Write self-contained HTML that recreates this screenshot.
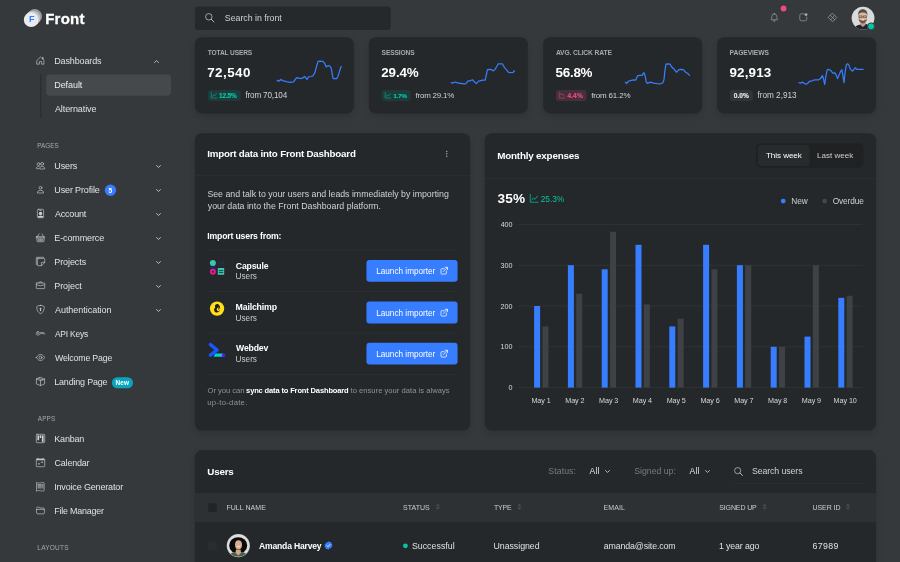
<!DOCTYPE html>
<html lang="en">
<head>
<meta charset="utf-8">
<title>Front Dashboard</title>
<style>
*{box-sizing:border-box;margin:0;padding:0}
html,body{width:900px;height:562px;overflow:hidden;background:#36393c}
body{font-family:"Liberation Sans",sans-serif;color:#c5c8cc;position:relative;font-size:8.75px;line-height:1}
.a{position:absolute;white-space:nowrap}
.t{position:absolute;white-space:nowrap;height:14px;line-height:14px}
svg{display:block;overflow:visible}
.ni svg,.ic svg{width:100%;height:100%}
.ic{position:absolute}
</style>
</head>
<body>
<svg class="a" style="left:0;top:0;width:900px;height:562px" viewBox="0 0 900 562">
<defs><filter id="sh" x="-10%" y="-20%" width="120%" height="140%"><feGaussianBlur stdDeviation="3"/></filter></defs>
<circle cx="34.7" cy="16.4" r="7.3" fill="#b0b3b7" opacity=".8"/>
<circle cx="33.0" cy="18.0" r="7.3" fill="#c3c5c9" opacity=".9"/>
<circle cx="31.2" cy="19.7" r="7.35" fill="#e9ebef"/>
<rect x="40.10" y="74.50" width="1.20" height="43.40" fill="#2b2e30"/>
<rect x="46.20" y="74.50" width="124.80" height="21.20" rx="3.80" fill="#46494c"/>
<circle cx="110.45" cy="190.25" r="5.65" fill="#377dff"/>
<rect x="111.90" y="377.20" width="21.10" height="11.10" rx="5.55" fill="#09a5be"/>
<rect x="194.90" y="6.60" width="195.80" height="23.40" rx="3.00" fill="#26292b"/>
<circle cx="783.55" cy="8.50" r="2.90" fill="#ed4c78"/>
<rect x="194.90" y="39.80" width="158.90" height="76.20" rx="7" fill="#000" opacity=".14" filter="url(#sh)"/>
<rect x="194.90" y="37.20" width="158.90" height="76.20" rx="7" fill="#25282a"/>
<rect x="207.70" y="89.90" width="32.90" height="11.00" rx="2.60" fill="#203a3a"/>
<path d="M277.29 80.40 L278.44 81.11 L281.11 79.60 L283.33 80.93 L286.44 81.73 L290.00 82.44 L293.56 81.82 L295.33 79.33 L296.67 77.73 L299.33 78.27 L302.00 78.44 L304.67 76.49 L306.89 79.33 L308.67 76.93 L310.89 76.49 L313.11 75.78 L314.89 72.67 L316.67 66.00 L318.00 61.38 L319.78 61.11 L322.89 61.29 L324.67 63.33 L326.18 66.89 L328.22 65.56 L330.00 66.00 L331.33 68.67 L332.67 76.67 L333.29 78.62 L336.67 78.62 L338.00 76.22 L339.78 70.44 L341.11 66.44" fill="none" stroke="#377dff" stroke-width="1.250" stroke-linejoin="round" stroke-linecap="round"/>
<rect x="368.90" y="39.80" width="158.90" height="76.20" rx="7" fill="#000" opacity=".14" filter="url(#sh)"/>
<rect x="368.90" y="37.20" width="158.90" height="76.20" rx="7" fill="#25282a"/>
<rect x="381.70" y="89.90" width="28.90" height="11.00" rx="2.60" fill="#203a3a"/>
<path d="M451.22 82.71 L452.56 83.07 L455.22 82.00 L457.44 82.89 L460.56 83.42 L464.11 83.96 L465.89 83.60 L468.11 80.93 L470.33 80.76 L472.38 79.78 L474.33 81.82 L476.29 83.60 L478.60 81.11 L480.56 80.58 L482.78 80.22 L485.18 80.22 L486.33 74.89 L487.49 69.73 L489.00 69.38 L491.22 69.56 L493.44 70.89 L495.22 69.11 L497.00 66.00 L498.33 63.78 L500.56 63.96 L502.33 63.78 L504.38 67.33 L506.33 69.56 L508.56 72.40 L510.78 72.67 L513.00 72.49 L514.51 70.62" fill="none" stroke="#377dff" stroke-width="1.250" stroke-linejoin="round" stroke-linecap="round"/>
<rect x="543.20" y="39.80" width="158.90" height="76.20" rx="7" fill="#000" opacity=".14" filter="url(#sh)"/>
<rect x="543.20" y="37.20" width="158.90" height="76.20" rx="7" fill="#25282a"/>
<rect x="556.00" y="89.90" width="30.50" height="11.00" rx="2.60" fill="#43303a"/>
<path d="M625.29 82.18 L626.62 83.51 L628.67 81.11 L631.33 80.40 L634.00 79.87 L635.78 80.04 L637.56 75.78 L639.78 75.33 L642.00 75.42 L643.96 72.67 L645.11 75.78 L646.27 82.00 L647.33 83.33 L650.44 82.18 L653.56 83.07 L657.11 83.60 L660.67 83.78 L662.89 82.71 L664.04 79.33 L664.93 70.44 L666.00 64.22 L667.78 63.78 L670.00 64.04 L671.78 67.07 L674.44 69.56 L676.49 72.22 L678.89 69.56 L681.11 69.38 L683.33 69.56 L685.56 72.22 L687.78 73.56 L689.56 75.33" fill="none" stroke="#377dff" stroke-width="1.250" stroke-linejoin="round" stroke-linecap="round"/>
<rect x="717.10" y="39.80" width="158.90" height="76.20" rx="7" fill="#000" opacity=".14" filter="url(#sh)"/>
<rect x="717.10" y="37.20" width="158.90" height="76.20" rx="7" fill="#25282a"/>
<rect x="729.90" y="89.90" width="22.90" height="11.00" rx="2.60" fill="#323538"/>
<path d="M799.11 82.71 L800.44 83.07 L802.67 82.18 L804.44 83.60 L806.22 84.22 L808.00 83.07 L809.60 81.11 L811.11 81.29 L813.33 80.22 L816.00 79.78 L818.67 79.78 L820.62 78.44 L822.40 75.60 L823.56 79.33 L824.71 84.49 L825.78 76.67 L827.11 70.00 L828.44 69.38 L830.67 70.27 L832.89 73.11 L835.11 72.93 L836.44 75.78 L837.60 78.62 L839.11 74.89 L840.71 71.33 L841.96 69.73 L842.93 75.78 L844.00 82.71 L845.07 72.22 L846.40 64.67 L847.56 63.60 L848.89 65.11 L850.22 68.84 L852.27 71.16 L853.78 69.73 L855.11 67.78 L856.71 69.29 L859.56 69.38 L863.11 69.38" fill="none" stroke="#377dff" stroke-width="1.250" stroke-linejoin="round" stroke-linecap="round"/>
<rect x="194.90" y="135.90" width="275.20" height="297.30" rx="7" fill="#000" opacity=".14" filter="url(#sh)"/>
<rect x="194.90" y="133.30" width="275.20" height="297.30" rx="7" fill="#25282a"/>
<rect x="194.90" y="175.10" width="275.30" height="0.80" fill="#2d3032"/>
<rect x="207.80" y="249.80" width="249.70" height="0.80" fill="#2d3032"/>
<rect x="366.45" y="260.00" width="91.10" height="21.80" rx="3.00" fill="#377dff"/>
<rect x="207.80" y="291.20" width="249.70" height="0.80" fill="#2d3032"/>
<rect x="366.45" y="301.60" width="91.10" height="21.80" rx="3.00" fill="#377dff"/>
<rect x="207.80" y="332.60" width="249.70" height="0.80" fill="#2d3032"/>
<rect x="366.45" y="342.80" width="91.10" height="21.80" rx="3.00" fill="#377dff"/>
<rect x="207.80" y="374.10" width="249.70" height="0.80" fill="#2d3032"/>
<rect x="209.900" y="260" width="6" height="14.800" rx="3" fill="#1e2a5a"/>
<circle cx="212.850" cy="262.950" r="3" fill="#3ec5a5"/>
<circle cx="212.850" cy="271.750" r="2" fill="none" stroke="#e8198b" stroke-width="2"/>
<circle cx="218.70" cy="261.30" r=".62" fill="#24326a"/>
<circle cx="218.70" cy="263.45" r=".62" fill="#24326a"/>
<circle cx="218.70" cy="265.60" r=".62" fill="#24326a"/>
<circle cx="221.10" cy="261.30" r=".62" fill="#24326a"/>
<circle cx="221.10" cy="263.45" r=".62" fill="#24326a"/>
<circle cx="221.10" cy="265.60" r=".62" fill="#24326a"/>
<circle cx="223.40" cy="261.30" r=".62" fill="#24326a"/>
<circle cx="223.40" cy="263.45" r=".62" fill="#24326a"/>
<circle cx="223.40" cy="265.60" r=".62" fill="#24326a"/>
<rect x="217.800" y="267.900" width="6.400" height="6.900" rx=".4" fill="#3cc8a5"/>
<path d="M218.900 270.600h4.300M218.900 272.500h4.300" stroke="#1e2a5a" stroke-width=".9"/>
<circle cx="217.050" cy="308.600" r="7.150" fill="#ffe01b"/>
<path d="M215.100 305.300c1.300-1.800 3.700-1.600 4.300.5.700 1 1 2.600.5 4.300-.4 1.700-1.800 2.600-3.400 2.400-1.600-.2-2.600-1.600-2.400-3.100.1-.9.600-1.500 1.200-1.800-.4-.8-.5-1.600-.2-2.300z" fill="#241c15"/>
<ellipse cx="218.300" cy="309.300" rx="1.500" ry="1.900" fill="#ffe01b"/><circle cx="218.400" cy="308.900" r=".55" fill="#241c15"/>
<path d="M215.300 353.500h7.500v3.300h-9.200z" fill="#00d2d6"/>
<circle cx="223.600" cy="355.150" r="1.750" fill="#6a10ff"/>
<path d="M210.500 344.700 217.100 350 210.500 355.200" fill="none" stroke="#1a56ff" stroke-width="3.500" stroke-linecap="round" stroke-linejoin="round"/>
<rect x="484.90" y="135.90" width="391.10" height="297.30" rx="7" fill="#000" opacity=".14" filter="url(#sh)"/>
<rect x="484.90" y="133.30" width="391.10" height="297.30" rx="7" fill="#25282a"/>
<rect x="756.10" y="143.20" width="107.40" height="24.50" rx="5.00" fill="#1f2123"/>
<rect x="757.80" y="145.00" width="51.70" height="20.90" rx="3.80" fill="#282b2d"/>
<rect x="484.90" y="178.00" width="391.30" height="0.80" fill="#2d3032"/>
<circle cx="783.20" cy="201.10" r="2.40" fill="#377dff"/>
<circle cx="824.60" cy="201.10" r="2.40" fill="#44474b"/>
<rect x="518.30" y="223.95" width="344.20" height="0.90" fill="#303336"/>
<rect x="518.30" y="264.75" width="344.20" height="0.90" fill="#303336"/>
<rect x="518.30" y="305.55" width="344.20" height="0.90" fill="#303336"/>
<rect x="518.30" y="346.35" width="344.20" height="0.90" fill="#303336"/>
<rect x="518.30" y="387.15" width="344.20" height="0.90" fill="#303336"/>
<rect x="534.10" y="306.00" width="6.00" height="81.60" rx="0.00" fill="#377dff"/>
<rect x="542.45" y="326.40" width="6.00" height="61.20" rx="0.00" fill="#3e4145"/>
<rect x="567.90" y="265.20" width="6.00" height="122.40" rx="0.00" fill="#377dff"/>
<rect x="576.25" y="293.76" width="6.00" height="93.84" rx="0.00" fill="#3e4145"/>
<rect x="601.70" y="269.28" width="6.00" height="118.32" rx="0.00" fill="#377dff"/>
<rect x="610.05" y="231.74" width="6.00" height="155.86" rx="0.00" fill="#3e4145"/>
<rect x="635.50" y="244.80" width="6.00" height="142.80" rx="0.00" fill="#377dff"/>
<rect x="643.85" y="304.37" width="6.00" height="83.23" rx="0.00" fill="#3e4145"/>
<rect x="669.30" y="326.40" width="6.00" height="61.20" rx="0.00" fill="#377dff"/>
<rect x="677.65" y="318.65" width="6.00" height="68.95" rx="0.00" fill="#3e4145"/>
<rect x="703.10" y="244.80" width="6.00" height="142.80" rx="0.00" fill="#377dff"/>
<rect x="711.45" y="269.28" width="6.00" height="118.32" rx="0.00" fill="#3e4145"/>
<rect x="736.90" y="265.20" width="6.00" height="122.40" rx="0.00" fill="#377dff"/>
<rect x="745.25" y="265.20" width="6.00" height="122.40" rx="0.00" fill="#3e4145"/>
<rect x="770.70" y="346.80" width="6.00" height="40.80" rx="0.00" fill="#377dff"/>
<rect x="779.05" y="346.80" width="6.00" height="40.80" rx="0.00" fill="#3e4145"/>
<rect x="804.50" y="336.60" width="6.00" height="51.00" rx="0.00" fill="#377dff"/>
<rect x="812.85" y="265.20" width="6.00" height="122.40" rx="0.00" fill="#3e4145"/>
<rect x="838.30" y="297.84" width="6.00" height="89.76" rx="0.00" fill="#377dff"/>
<rect x="846.65" y="295.80" width="6.00" height="91.80" rx="0.00" fill="#3e4145"/>
<rect x="194.90" y="452.70" width="681.10" height="130.00" rx="7" fill="#000" opacity=".14" filter="url(#sh)"/>
<rect x="194.90" y="450.10" width="681.10" height="130.00" rx="7" fill="#25282a"/>
<rect x="733.40" y="482.90" width="130.80" height="0.80" fill="#2d3032"/>
<rect x="194.90" y="493.10" width="681.10" height="28.90" rx="0.00" fill="#2e3133"/>
<rect x="208.20" y="503.30" width="8.60" height="8.70" rx="1.50" fill="#222527"/>
<path d="M437.85 503.500l2.100 2.700h-4.200zM437.85 509.900l2.100-2.700h-4.200z" fill="#474b4f"/>
<path d="M519.45 503.500l2.100 2.700h-4.200zM519.45 509.900l2.100-2.700h-4.200z" fill="#474b4f"/>
<path d="M764.65 503.500l2.100 2.700h-4.200zM764.65 509.900l2.100-2.700h-4.200z" fill="#474b4f"/>
<path d="M847.95 503.500l2.100 2.700h-4.200zM847.95 509.900l2.100-2.700h-4.200z" fill="#474b4f"/>
<rect x="208.20" y="541.60" width="8.60" height="8.60" rx="1.50" fill="#2a2d2f"/>
<circle cx="405.40" cy="545.80" r="2.40" fill="#00c9a7"/>
</svg>
<aside>
<div class="t" style="left:29.00px;top:12.00px;font-size:9px;color:#377dff;font-weight:bold;">F</div>
<div class="t" style="left:45.20px;top:12.00px;font-size:15px;color:#fff;font-weight:bold;letter-spacing:0.219px;-webkit-text-stroke:.3px #fff;">Front</div>
<div class="ic" style="left:36.15px;top:55.90px;width:9.00px;height:9.00px;color:#cfd2d5"><svg viewBox="0 0 16 16"><path d="M2 7.600 8 1.700l6 5.900v6.900h-4v-4.500H6v4.500H2z" fill="none" stroke="currentColor" stroke-width="1.1" stroke-linejoin="round" stroke-linecap="round"/><path d="M11.500 4.600V2.500h1.300v3.300" fill="none" stroke="currentColor" stroke-width="1.1" stroke-linejoin="round" stroke-linecap="round"/></svg></div>
<div class="t" style="left:54.25px;top:54.00px;font-size:9px;color:#dfe1e3;letter-spacing:-0.137px;">Dashboards</div>
<div class="ic" style="left:153.80px;top:58.70px;width:5.00px;height:5.00px;color:#d3d5d8"><svg viewBox="0 0 16 16"><path d="M1.700 11.300 8 5l6.300 6.300" fill="none" stroke="currentColor" stroke-width="2.600" stroke-linecap="round" stroke-linejoin="round"/></svg></div>
<div class="t" style="left:54.25px;top:78.00px;font-size:9px;color:#e6e8ea;letter-spacing:-0.069px;">Default</div>
<div class="t" style="left:54.95px;top:102.00px;font-size:9px;color:#dfe1e3;letter-spacing:-0.102px;">Alternative</div>
<div class="t" style="left:37.30px;top:139.00px;font-size:6.3px;color:#a6aaae;letter-spacing:0.040px;">PAGES</div>
<div class="ic" style="left:36.15px;top:160.90px;width:9.00px;height:9.00px;color:#cfd2d5"><svg viewBox="0 0 16 16"><circle cx="11" cy="5" r="2.500" fill="none" stroke="currentColor" stroke-width="1.1" stroke-linejoin="round" stroke-linecap="round"/><path d="M6.500 13.500c0-2.100 1.500-4 4.500-4s4.500 1.900 4.500 4z" fill="none" stroke="currentColor" stroke-width="1.1" stroke-linejoin="round" stroke-linecap="round"/><circle cx="4.500" cy="5.500" r="2.500" fill="none" stroke="currentColor" stroke-width="1.1" stroke-linejoin="round" stroke-linecap="round"/><path d="M5.600 9.550C5.400 9.500 5.200 9.500 5 9.500c-3.400 0-4.500 2.400-4.500 3.500 0 .3.200.5.500.5h3.500" fill="none" stroke="currentColor" stroke-width="1.1" stroke-linejoin="round" stroke-linecap="round"/></svg></div>
<div class="t" style="left:54.35px;top:159.00px;font-size:9px;color:#dfe1e3;letter-spacing:-0.150px;">Users</div>
<div class="ic" style="left:155.90px;top:163.70px;width:5.00px;height:5.00px;color:#d3d5d8"><svg viewBox="0 0 16 16"><path d="M1.700 4.700 8 11l6.300-6.300" fill="none" stroke="currentColor" stroke-width="2.600" stroke-linecap="round" stroke-linejoin="round"/></svg></div>
<div class="ic" style="left:36.15px;top:184.90px;width:9.00px;height:9.00px;color:#cfd2d5"><svg viewBox="0 0 16 16"><circle cx="8" cy="5" r="2.500" fill="none" stroke="currentColor" stroke-width="1.1" stroke-linejoin="round" stroke-linecap="round"/><path d="M2.500 13.500c0-2 1.500-4 5.500-4s5.500 2 5.500 4z" fill="none" stroke="currentColor" stroke-width="1.1" stroke-linejoin="round" stroke-linecap="round"/></svg></div>
<div class="t" style="left:54.35px;top:183.00px;font-size:9px;color:#dfe1e3;letter-spacing:-0.146px;">User Profile</div>
<div class="ic" style="left:155.90px;top:187.70px;width:5.00px;height:5.00px;color:#d3d5d8"><svg viewBox="0 0 16 16"><path d="M1.700 4.700 8 11l6.300-6.300" fill="none" stroke="currentColor" stroke-width="2.600" stroke-linecap="round" stroke-linejoin="round"/></svg></div>
<div class="ic" style="left:36.15px;top:208.90px;width:9.00px;height:9.00px;color:#cfd2d5"><svg viewBox="0 0 16 16"><rect x="2.500" y=".5" width="11" height="15" rx="2" fill="none" stroke="currentColor" stroke-width="1.1" stroke-linejoin="round" stroke-linecap="round"/><path d="M6.500 2.500h3" fill="none" stroke="currentColor" stroke-width="1.1" stroke-linejoin="round" stroke-linecap="round"/><circle cx="8" cy="8" r="3" fill="currentColor"/><path d="M3 13.400c1-.9 2.800-1.400 5-1.400s4 .5 5 1.400V15H3z" fill="currentColor"/></svg></div>
<div class="t" style="left:54.95px;top:207.00px;font-size:8.99px;color:#dfe1e3;letter-spacing:-0.180px;">Account</div>
<div class="ic" style="left:155.90px;top:211.70px;width:5.00px;height:5.00px;color:#d3d5d8"><svg viewBox="0 0 16 16"><path d="M1.700 4.700 8 11l6.300-6.300" fill="none" stroke="currentColor" stroke-width="2.600" stroke-linecap="round" stroke-linejoin="round"/></svg></div>
<div class="ic" style="left:36.15px;top:232.90px;width:9.00px;height:9.00px;color:#cfd2d5"><svg viewBox="0 0 16 16"><path d="M5.500 1.500 2.800 6M10.500 1.500l2.700 4.500" fill="none" stroke="currentColor" stroke-width="1.1" stroke-linejoin="round" stroke-linecap="round"/><rect x=".5" y="6.500" width="15" height="2" rx=".5" fill="none" stroke="currentColor" stroke-width="1.1" stroke-linejoin="round" stroke-linecap="round"/><path d="M1.500 8.500v5a2 2 0 0 0 2 2h9a2 2 0 0 0 2-2v-5" fill="none" stroke="currentColor" stroke-width="1.1" stroke-linejoin="round" stroke-linecap="round"/><path d="M4 10.500v3M6 10.500v3M8 10.500v3M10 10.500v3M12 10.500v3" fill="none" stroke="currentColor" stroke-width="1.1" stroke-linejoin="round" stroke-linecap="round"/></svg></div>
<div class="t" style="left:54.25px;top:231.00px;font-size:9px;color:#dfe1e3;letter-spacing:-0.122px;">E-commerce</div>
<div class="ic" style="left:155.90px;top:235.70px;width:5.00px;height:5.00px;color:#d3d5d8"><svg viewBox="0 0 16 16"><path d="M1.700 4.700 8 11l6.300-6.300" fill="none" stroke="currentColor" stroke-width="2.600" stroke-linecap="round" stroke-linejoin="round"/></svg></div>
<div class="ic" style="left:36.15px;top:256.90px;width:9.00px;height:9.00px;color:#cfd2d5"><svg viewBox="0 0 16 16"><path d="M.5 13.500V1.500a1 1 0 0 1 1-1h12" fill="none" stroke="currentColor" stroke-width="1.1" stroke-linejoin="round" stroke-linecap="round"/><path d="M3.500 2.500h11a1 1 0 0 1 1 1v6.100l-5.400 5.900H3.500a1 1 0 0 1-1-1v-11a1 1 0 0 1 1-1z" fill="none" stroke="currentColor" stroke-width="1.1" stroke-linejoin="round" stroke-linecap="round"/><path d="M9.500 15.200v-4.700a1 1 0 0 1 1-1h4.700" fill="none" stroke="currentColor" stroke-width="1.1" stroke-linejoin="round" stroke-linecap="round"/></svg></div>
<div class="t" style="left:54.25px;top:255.00px;font-size:9px;color:#dfe1e3;letter-spacing:-0.087px;">Projects</div>
<div class="ic" style="left:155.90px;top:259.70px;width:5.00px;height:5.00px;color:#d3d5d8"><svg viewBox="0 0 16 16"><path d="M1.700 4.700 8 11l6.300-6.300" fill="none" stroke="currentColor" stroke-width="2.600" stroke-linecap="round" stroke-linejoin="round"/></svg></div>
<div class="ic" style="left:36.15px;top:280.90px;width:9.00px;height:9.00px;color:#cfd2d5"><svg viewBox="0 0 16 16"><rect x=".5" y="3.500" width="15" height="10" rx="1" fill="none" stroke="currentColor" stroke-width="1.1" stroke-linejoin="round" stroke-linecap="round"/><path d="M5.500 3.500v-1a1 1 0 0 1 1-1h3a1 1 0 0 1 1 1v1" fill="none" stroke="currentColor" stroke-width="1.1" stroke-linejoin="round" stroke-linecap="round"/><path d="M.6 6.600 8 8.500l7.400-1.900" fill="none" stroke="currentColor" stroke-width="1.1" stroke-linejoin="round" stroke-linecap="round"/></svg></div>
<div class="t" style="left:54.25px;top:279.00px;font-size:9px;color:#dfe1e3;letter-spacing:-0.068px;">Project</div>
<div class="ic" style="left:155.90px;top:283.70px;width:5.00px;height:5.00px;color:#d3d5d8"><svg viewBox="0 0 16 16"><path d="M1.700 4.700 8 11l6.300-6.300" fill="none" stroke="currentColor" stroke-width="2.600" stroke-linecap="round" stroke-linejoin="round"/></svg></div>
<div class="ic" style="left:36.15px;top:304.90px;width:9.00px;height:9.00px;color:#cfd2d5"><svg viewBox="0 0 16 16"><path d="M8 .6c-1.500 0-4.500 1-5.800 1.400-.3.100-.5.400-.6.700-.5 4.300.8 7.500 2.400 9.600 1.300 1.700 3 3 4 3.100 1-.1 2.700-1.400 4-3.100 1.600-2.100 2.900-5.300 2.400-9.600-.1-.3-.3-.6-.6-.7C12.500 1.600 9.500.6 8 .6z" fill="none" stroke="currentColor" stroke-width="1.1" stroke-linejoin="round" stroke-linecap="round"/><circle cx="8" cy="6.500" r="1.500" fill="currentColor"/><path d="M7.300 7.500h1.400l.5 3H6.800z" fill="currentColor"/></svg></div>
<div class="t" style="left:54.95px;top:303.00px;font-size:9px;color:#dfe1e3;letter-spacing:-0.034px;">Authentication</div>
<div class="ic" style="left:155.90px;top:307.70px;width:5.00px;height:5.00px;color:#d3d5d8"><svg viewBox="0 0 16 16"><path d="M1.700 4.700 8 11l6.300-6.300" fill="none" stroke="currentColor" stroke-width="2.600" stroke-linecap="round" stroke-linejoin="round"/></svg></div>
<div class="ic" style="left:36.15px;top:328.90px;width:9.00px;height:9.00px;color:#cfd2d5"><svg viewBox="0 0 16 16"><path d="M3.500 5a3 3 0 1 0 2.800 4h1.200l1-1 1 1 1-1 1 1 1-1 1 1h1.500L15.500 8 14 6.500H6.100A3 3 0 0 0 3.500 5z" fill="none" stroke="currentColor" stroke-width="1.1" stroke-linejoin="round" stroke-linecap="round"/><circle cx="3.500" cy="8" r=".9" fill="currentColor"/></svg></div>
<div class="t" style="left:54.95px;top:327.00px;font-size:8.42px;color:#dfe1e3;letter-spacing:-0.188px;">API Keys</div>
<div class="ic" style="left:36.15px;top:352.90px;width:9.00px;height:9.00px;color:#cfd2d5"><svg viewBox="0 0 16 16"><path d="M.6 8s3-5.500 7.400-5.500S15.400 8 15.400 8s-3 5.500-7.400 5.500S.6 8 .6 8z" fill="none" stroke="currentColor" stroke-width="1.1" stroke-linejoin="round" stroke-linecap="round"/><circle cx="8" cy="8" r="2.500" fill="none" stroke="currentColor" stroke-width="1.1" stroke-linejoin="round" stroke-linecap="round"/></svg></div>
<div class="t" style="left:54.95px;top:351.00px;font-size:8.77px;color:#dfe1e3;letter-spacing:-0.175px;">Welcome Page</div>
<div class="ic" style="left:36.15px;top:376.90px;width:9.00px;height:9.00px;color:#cfd2d5"><svg viewBox="0 0 16 16"><path d="M8 .8 15.300 3.700v8.600L8 15.200.7 12.300V3.700z" fill="none" stroke="currentColor" stroke-width="1.1" stroke-linejoin="round" stroke-linecap="round"/><path d="M.7 3.700 8 6.600l7.300-2.900M8 6.600v8.600M4.350 2.250l7.300 2.900" fill="none" stroke="currentColor" stroke-width="1.1" stroke-linejoin="round" stroke-linecap="round"/></svg></div>
<div class="t" style="left:54.25px;top:375.00px;font-size:8.96px;color:#dfe1e3;letter-spacing:-0.174px;">Landing Page</div>
<div class="t" style="left:108.50px;top:184.00px;font-size:6.6px;color:#fff;font-weight:bold;">5</div>
<div class="t" style="left:115.60px;top:376.00px;font-size:6.4px;color:#fff;font-weight:bold;letter-spacing:0.109px;">New</div>
<div class="t" style="left:37.80px;top:412.00px;font-size:6.3px;color:#a6aaae;letter-spacing:0.165px;">APPS</div>
<div class="ic" style="left:36.15px;top:433.90px;width:9.00px;height:9.00px;color:#cfd2d5"><svg viewBox="0 0 16 16"><rect x=".5" y=".5" width="15" height="15" rx="1.500" fill="none" stroke="currentColor" stroke-width="1.1" stroke-linejoin="round" stroke-linecap="round"/><rect x="2.500" y="2" width="3" height="9" rx="1" fill="currentColor"/><rect x="6.500" y="2" width="3" height="5" rx="1" fill="currentColor"/><rect x="10.500" y="2" width="3" height="12" rx="1" fill="currentColor"/></svg></div>
<div class="t" style="left:54.25px;top:432.00px;font-size:8.99px;color:#dfe1e3;letter-spacing:-0.179px;">Kanban</div>
<div class="ic" style="left:36.15px;top:457.90px;width:9.00px;height:9.00px;color:#cfd2d5"><svg viewBox="0 0 16 16"><rect x=".5" y="1.500" width="15" height="14" rx="1.500" fill="none" stroke="currentColor" stroke-width="1.1" stroke-linejoin="round" stroke-linecap="round"/><path d="M1 2h14v2H1z" fill="currentColor"/><path d="M3.500.5v1M12.500.5v1" fill="none" stroke="currentColor" stroke-width="1.1" stroke-linejoin="round" stroke-linecap="round"/><path d="M9 7.500h3.500M3.500 10.500H7" stroke="currentColor" stroke-width="1.600" fill="none"/></svg></div>
<div class="t" style="left:54.55px;top:456.00px;font-size:8.93px;color:#dfe1e3;letter-spacing:-0.181px;">Calendar</div>
<div class="ic" style="left:36.15px;top:481.90px;width:9.00px;height:9.00px;color:#cfd2d5"><svg viewBox="0 0 16 16"><path d="M1.500 1l1 .8 1-.8 1 .8 1-.8 1 .8 1-.8 1 .8 1-.8 1 .8 1-.8 1 .8 1-.8 1 .8v13.400l-1 .8-1-.8-1 .8-1-.8-1 .8-1-.8-1 .8-1-.8-1 .8-1-.8-1 .8-1-.8-1 .8z" fill="none" stroke="currentColor" stroke-width="1.1" stroke-linejoin="round" stroke-linecap="round"/><path d="M3.500 4.500h6M3.500 6.500h6M3.500 8.500h6M3.500 10.500h6M11.500 4.500h1M11.500 6.500h1M11.500 8.500h1M11.500 10.500h1" fill="none" stroke="currentColor" stroke-width="1.1" stroke-linejoin="round" stroke-linecap="round"/></svg></div>
<div class="t" style="left:54.15px;top:480.00px;font-size:9px;color:#dfe1e3;letter-spacing:-0.159px;">Invoice Generator</div>
<div class="ic" style="left:36.15px;top:505.90px;width:9.00px;height:9.00px;color:#cfd2d5"><svg viewBox="0 0 16 16"><path d="M1 3.500A1.500 1.500 0 0 1 2.500 2h2.800l1.700 1.500h6A1.500 1.500 0 0 1 14.500 5v1" fill="none" stroke="currentColor" stroke-width="1.1" stroke-linejoin="round" stroke-linecap="round"/><path d="M1.500 6h13a1 1 0 0 1 1 1.200l-.8 5.600a1.500 1.500 0 0 1-1.500 1.200H2.800a1.500 1.500 0 0 1-1.500-1.200L.5 7.200a1 1 0 0 1 1-1.200z" fill="none" stroke="currentColor" stroke-width="1.1" stroke-linejoin="round" stroke-linecap="round"/></svg></div>
<div class="t" style="left:54.25px;top:504.00px;font-size:8.9px;color:#dfe1e3;letter-spacing:-0.180px;">File Manager</div>
<div class="t" style="left:37.30px;top:541.00px;font-size:6.51px;color:#a6aaae;letter-spacing:0.223px;">LAYOUTS</div>
</aside>
<header>
<div class="ic" style="left:204.80px;top:13.30px;width:9.40px;height:9.40px;color:#c5c8cc"><svg viewBox="0 0 16 16"><circle cx="6.500" cy="6.500" r="5.500" fill="none" stroke="currentColor" stroke-width="1.250"/><path d="M10.600 10.600 15.200 15.200" stroke="currentColor" stroke-width="1.500" stroke-linecap="round"/></svg></div>
<div class="t" style="left:224.80px;top:11.00px;font-size:8.8px;color:#cfd1d4;letter-spacing:-0.020px;">Search in front</div>
<div class="ic" style="left:769.60px;top:13.20px;width:8.60px;height:8.60px;color:#a9afb5"><svg viewBox="0 0 16 16"><path d="M8 1.500A4.500 4.500 0 0 0 3.500 6c0 2.500-.5 5-1.700 6.500h12.400C13 11 12.500 8.500 12.500 6A4.500 4.500 0 0 0 8 1.500z" fill="none" stroke="currentColor" stroke-width="1.1" stroke-linejoin="round" stroke-linecap="round"/><path d="M6.300 14.200a1.700 1.700 0 0 0 3.400 0" fill="none" stroke="currentColor" stroke-width="1.1" stroke-linejoin="round" stroke-linecap="round"/><circle cx="8" cy="1" r=".9" fill="currentColor"/></svg></div>
<div class="ic" style="left:798.90px;top:13.40px;width:8.60px;height:8.60px;color:#a9afb5"><svg viewBox="0 0 16 16"><path d="M8.500 1.500H4.500a3 3 0 0 0-3 3v7a3 3 0 0 0 3 3h7a3 3 0 0 0 3-3V7.500" fill="none" stroke="currentColor" stroke-width="1.1" stroke-linejoin="round" stroke-linecap="round"/><circle cx="13" cy="3" r="2.700" fill="currentColor"/></svg></div>
<div class="ic" style="left:828.00px;top:13.10px;width:9.20px;height:9.20px;color:#a9afb5"><svg viewBox="0 0 16 16"><path d="M8 .7 15.300 8 8 15.300.7 8z" fill="none" stroke="currentColor" stroke-width="1.1" stroke-linejoin="round" stroke-linecap="round"/><path d="M4.350 4.350l7.300 7.300M11.650 4.350l-7.300 7.300" fill="none" stroke="currentColor" stroke-width="1.1" stroke-linejoin="round" stroke-linecap="round"/></svg></div>
<svg class="a" style="left:850px;top:5px;width:27px;height:27px" viewBox="850 5 27 27">
<defs><clipPath id="av"><circle cx="863.050" cy="18.100" r="11.400"/></clipPath></defs>
<g clip-path="url(#av)"><rect x="850" y="5" width="27" height="27" fill="#d9dadb"/>
<path d="M853 30.500c1-3.800 4-5.200 6.500-5.800l2.800-1.200h2.800l2.800 1.200c2.500.600 5.500 2 6.500 5.800z" fill="#1f2435"/>
<path d="M860.600 21.500h4.600l.4 3.200-2.700 2.300-2.700-2.300z" fill="#c69a7e"/>
<ellipse cx="862.600" cy="17.200" rx="4.400" ry="5.500" fill="#dcb6a0"/>
<path d="M858.200 16c-.5-4.200 1.500-6.700 4.600-6.700s5.100 2.500 4.600 6.700c-.4-2.200-1.300-3.400-4.600-3.400s-4.200 1.200-4.600 3.400z" fill="#55504c"/>
<path d="M858.500 18.600c.4 3.200 2 4.800 4.300 4.800s3.900-1.600 4.300-4.800c-1 1.400-2.500 1.900-4.300 1.900s-3.300-.5-4.300-1.900z" fill="#6a5447"/>
<path d="M859 15.900h3.200v1.700H859zM863.400 15.900h3.200v1.700h-3.200z" fill="none" stroke="#3a302b" stroke-width=".55"/>
<path d="M861.600 19.900h2.500" stroke="#f1e6e0" stroke-width=".8"/>
</g>
<circle cx="871.100" cy="26.400" r="3.500" fill="#00c9a7" stroke="#36393c" stroke-width="1"/>
</svg>
</header>
<main>
<section>
<div class="t" style="left:207.70px;top:46.00px;font-size:6.61px;color:#a6aaae;font-weight:bold;letter-spacing:-0.132px;">TOTAL USERS</div>
<div class="t" style="left:207.20px;top:66.00px;font-size:13.4px;color:#fff;font-weight:bold;letter-spacing:0.453px;">72,540</div>
<div class="ic" style="left:210.90px;top:92.40px;width:6.20px;height:6.20px;color:#00c9a7"><svg viewBox="0 0 16 16"><path d="M.5 0v15.500H16" fill="none" stroke="currentColor" stroke-width="1.300"/><path d="M3.500 11.500 6.500 7.300l3 2.700 4.500-6" fill="none" stroke="currentColor" stroke-width="1.300" stroke-linejoin="round" stroke-linecap="round"/></svg></div>
<div class="t" style="left:219.00px;top:89.00px;font-size:6.48px;color:#00c9a7;font-weight:bold;letter-spacing:-0.128px;-webkit-text-stroke:.15px #00c9a7;">12.5%</div>
<div class="t" style="left:245.40px;top:89.00px;font-size:8.15px;color:#cfd1d4;letter-spacing:-0.156px;">from 70,104</div>
<div class="t" style="left:381.60px;top:46.00px;font-size:6.63px;color:#a6aaae;font-weight:bold;letter-spacing:-0.125px;">SESSIONS</div>
<div class="t" style="left:381.30px;top:66.00px;font-size:13.4px;color:#fff;font-weight:bold;letter-spacing:-0.145px;">29.4%</div>
<div class="ic" style="left:384.90px;top:92.40px;width:6.20px;height:6.20px;color:#00c9a7"><svg viewBox="0 0 16 16"><path d="M.5 0v15.500H16" fill="none" stroke="currentColor" stroke-width="1.300"/><path d="M3.500 11.500 6.500 7.300l3 2.700 4.500-6" fill="none" stroke="currentColor" stroke-width="1.300" stroke-linejoin="round" stroke-linecap="round"/></svg></div>
<div class="t" style="left:393.50px;top:89.00px;font-size:6.07px;color:#00c9a7;font-weight:bold;letter-spacing:-0.179px;-webkit-text-stroke:.15px #00c9a7;">1.7%</div>
<div class="t" style="left:415.40px;top:89.00px;font-size:7.93px;color:#cfd1d4;letter-spacing:-0.166px;">from 29.1%</div>
<div class="t" style="left:555.90px;top:46.00px;font-size:6.7px;color:#a6aaae;font-weight:bold;letter-spacing:-0.125px;">AVG. CLICK RATE</div>
<div class="t" style="left:555.60px;top:66.00px;font-size:13.4px;color:#fff;font-weight:bold;letter-spacing:-0.270px;">56.8%</div>
<div class="ic" style="left:559.20px;top:92.40px;width:6.20px;height:6.20px;color:#ed4c78"><svg viewBox="0 0 16 16"><path d="M.5 0v15.500H16" fill="none" stroke="currentColor" stroke-width="1.300"/><path d="M3.500 3.500l3 4.200 3-2.700 4.500 6" fill="none" stroke="currentColor" stroke-width="1.300" stroke-linejoin="round" stroke-linecap="round"/></svg></div>
<div class="t" style="left:567.40px;top:89.00px;font-size:6.6px;color:#ed4c78;font-weight:bold;letter-spacing:0.108px;-webkit-text-stroke:.15px #ed4c78;">4.4%</div>
<div class="t" style="left:591.30px;top:89.00px;font-size:7.97px;color:#cfd1d4;letter-spacing:-0.173px;">from 61.2%</div>
<div class="t" style="left:729.50px;top:46.00px;font-size:6.7px;color:#a6aaae;font-weight:bold;letter-spacing:-0.077px;">PAGEVIEWS</div>
<div class="t" style="left:729.50px;top:66.00px;font-size:13.4px;color:#fff;font-weight:bold;letter-spacing:0.153px;">92,913</div>
<div class="t" style="left:733.70px;top:89.00px;font-size:6.6px;color:#e6e8ea;font-weight:bold;letter-spacing:0.075px;-webkit-text-stroke:.15px #e6e8ea;">0.0%</div>
<div class="t" style="left:757.60px;top:89.00px;font-size:8.2px;color:#cfd1d4;letter-spacing:-0.026px;">from 2,913</div>
</section>
<section>
<div class="t" style="left:207.20px;top:147.00px;font-size:9.75px;color:#fff;font-weight:bold;letter-spacing:-0.202px;">Import data into Front Dashboard</div>
<div class="ic" style="left:442.60px;top:149.90px;width:7.60px;height:7.60px;color:#a6aaae"><svg viewBox="0 0 16 16"><circle cx="8" cy="3" r="1.500" fill="currentColor"/><circle cx="8" cy="8" r="1.500" fill="currentColor"/><circle cx="8" cy="13" r="1.500" fill="currentColor"/></svg></div>
<div class="t" style="left:207.40px;top:187.00px;font-size:8.8px;color:#d0d3d6;letter-spacing:-0.019px;">See and talk to your users and leads immediately by importing</div>
<div class="t" style="left:207.80px;top:199.00px;font-size:8.8px;color:#d0d3d6;">your data into the Front Dashboard platform.</div>
<div class="t" style="left:207.30px;top:229.00px;font-size:8.69px;color:#fff;font-weight:bold;letter-spacing:-0.174px;">Import users from:</div>
<div class="t" style="left:235.80px;top:259.00px;font-size:8.69px;color:#fff;font-weight:bold;letter-spacing:-0.178px;">Capsule</div>
<div class="t" style="left:235.50px;top:270.00px;font-size:8.2px;color:#c9ccd0;letter-spacing:0.022px;">Users</div>
<div class="t" style="left:376.20px;top:265.00px;font-size:8.2px;color:#fff;">Launch importer</div>
<div class="ic" style="left:440.20px;top:267.40px;width:7.80px;height:7.80px;color:#fff"><svg viewBox="0 0 16 16"><path d="M8.600 3.500H3.500a1.500 1.500 0 0 0-1.500 1.500v8a1.500 1.500 0 0 0 1.500 1.500h8a1.500 1.500 0 0 0 1.500-1.500V8" fill="none" stroke="currentColor" stroke-width="1.500" stroke-linecap="round"/><path d="M6.700 9.300 15.300.7M10.500.6h4.900v4.900" fill="none" stroke="currentColor" stroke-width="1.500" stroke-linecap="round" stroke-linejoin="round"/></svg></div>
<div class="t" style="left:235.60px;top:300.00px;font-size:8.78px;color:#fff;font-weight:bold;letter-spacing:-0.183px;">Mailchimp</div>
<div class="t" style="left:235.50px;top:312.00px;font-size:8.2px;color:#c9ccd0;letter-spacing:0.022px;">Users</div>
<div class="t" style="left:376.20px;top:307.00px;font-size:8.2px;color:#fff;">Launch importer</div>
<div class="ic" style="left:440.20px;top:309.00px;width:7.80px;height:7.80px;color:#fff"><svg viewBox="0 0 16 16"><path d="M8.600 3.500H3.500a1.500 1.500 0 0 0-1.500 1.500v8a1.500 1.500 0 0 0 1.500 1.500h8a1.500 1.500 0 0 0 1.500-1.500V8" fill="none" stroke="currentColor" stroke-width="1.500" stroke-linecap="round"/><path d="M6.700 9.300 15.300.7M10.500.6h4.900v4.900" fill="none" stroke="currentColor" stroke-width="1.500" stroke-linecap="round" stroke-linejoin="round"/></svg></div>
<div class="t" style="left:236.10px;top:341.00px;font-size:8.66px;color:#fff;font-weight:bold;letter-spacing:-0.166px;">Webdev</div>
<div class="t" style="left:235.50px;top:353.00px;font-size:8.2px;color:#c9ccd0;letter-spacing:0.022px;">Users</div>
<div class="t" style="left:376.20px;top:348.00px;font-size:8.2px;color:#fff;">Launch importer</div>
<div class="ic" style="left:440.20px;top:350.20px;width:7.80px;height:7.80px;color:#fff"><svg viewBox="0 0 16 16"><path d="M8.600 3.500H3.500a1.500 1.500 0 0 0-1.500 1.500v8a1.500 1.500 0 0 0 1.500 1.500h8a1.500 1.500 0 0 0 1.500-1.500V8" fill="none" stroke="currentColor" stroke-width="1.500" stroke-linecap="round"/><path d="M6.700 9.300 15.300.7M10.500.6h4.900v4.900" fill="none" stroke="currentColor" stroke-width="1.500" stroke-linecap="round" stroke-linejoin="round"/></svg></div>
<div class="t" style="left:207.50px;top:384.00px;font-size:7.6px;color:#8f9398;letter-spacing:-0.016px;">Or you can</div>
<div class="t" style="left:246.10px;top:384.00px;font-size:7.54px;color:#fff;font-weight:bold;letter-spacing:-0.152px;">sync data to Front Dashboard</div>
<div class="t" style="left:350.50px;top:384.00px;font-size:7.6px;color:#8f9398;letter-spacing:0.024px;">to ensure your data is always</div>
<div class="t" style="left:207.30px;top:396.00px;font-size:7.71px;color:#8f9398;letter-spacing:0.276px;">up-to-date.</div>
</section>
<section>
<div class="t" style="left:497.20px;top:149.00px;font-size:9.85px;color:#fff;font-weight:bold;letter-spacing:-0.201px;">Monthly expenses</div>
<div class="t" style="left:766.00px;top:149.00px;font-size:8.1px;color:#fff;letter-spacing:-0.076px;">This week</div>
<div class="t" style="left:816.90px;top:149.00px;font-size:8.1px;color:#c9ccd0;letter-spacing:0.010px;">Last week</div>
<div class="t" style="left:497.50px;top:192.00px;font-size:13.6px;color:#fff;font-weight:bold;letter-spacing:0.236px;">35%</div>
<div class="ic" style="left:529.95px;top:194.35px;width:8.50px;height:8.50px;color:#00c9a7"><svg viewBox="0 0 16 16"><path d="M.5 0v15.500H16" fill="none" stroke="currentColor" stroke-width="1.300"/><path d="M3.500 11.500 6.500 7.300l3 2.700 4.500-6" fill="none" stroke="currentColor" stroke-width="1.300" stroke-linejoin="round" stroke-linecap="round"/></svg></div>
<div class="t" style="left:540.80px;top:192.00px;font-size:8.3px;color:#08c4a2;letter-spacing:-0.039px;">25.3%</div>
<div class="t" style="left:791.30px;top:194.00px;font-size:8.3px;color:#cfd1d4;letter-spacing:-0.055px;">New</div>
<div class="t" style="left:832.70px;top:194.00px;font-size:8.3px;color:#cfd1d4;letter-spacing:-0.120px;">Overdue</div>
<div class="t" style="left:500.70px;top:218.00px;font-size:7.2px;color:#d6d8db;letter-spacing:-0.104px;">400</div>
<div class="t" style="left:500.60px;top:259.00px;font-size:7.2px;color:#d6d8db;letter-spacing:-0.054px;">300</div>
<div class="t" style="left:500.50px;top:300.00px;font-size:7.2px;color:#d6d8db;letter-spacing:-0.004px;">200</div>
<div class="t" style="left:500.60px;top:340.00px;font-size:7.2px;color:#d6d8db;letter-spacing:-0.054px;">100</div>
<div class="t" style="left:508.40px;top:381.00px;font-size:7.2px;color:#d6d8db;">0</div>
<div class="t" style="left:531.45px;top:394.00px;font-size:7.2px;color:#d6d8db;letter-spacing:-0.076px;">May 1</div>
<div class="t" style="left:565.25px;top:394.00px;font-size:7.2px;color:#d6d8db;letter-spacing:-0.076px;">May 2</div>
<div class="t" style="left:599.05px;top:394.00px;font-size:7.2px;color:#d6d8db;letter-spacing:-0.076px;">May 3</div>
<div class="t" style="left:632.85px;top:394.00px;font-size:7.2px;color:#d6d8db;letter-spacing:-0.101px;">May 4</div>
<div class="t" style="left:666.65px;top:394.00px;font-size:7.2px;color:#d6d8db;letter-spacing:-0.101px;">May 5</div>
<div class="t" style="left:700.45px;top:394.00px;font-size:7.2px;color:#d6d8db;letter-spacing:-0.076px;">May 6</div>
<div class="t" style="left:734.25px;top:394.00px;font-size:7.2px;color:#d6d8db;letter-spacing:-0.076px;">May 7</div>
<div class="t" style="left:768.05px;top:394.00px;font-size:7.2px;color:#d6d8db;letter-spacing:-0.076px;">May 8</div>
<div class="t" style="left:801.85px;top:394.00px;font-size:7.2px;color:#d6d8db;letter-spacing:-0.076px;">May 9</div>
<div class="t" style="left:833.60px;top:394.00px;font-size:7.2px;color:#d6d8db;letter-spacing:-0.061px;">May 10</div>
</section>
<section>
<div class="t" style="left:207.30px;top:465.00px;font-size:9.84px;color:#fff;font-weight:bold;letter-spacing:-0.220px;">Users</div>
<div class="t" style="left:548.30px;top:464.00px;font-size:8.7px;color:#777b80;letter-spacing:0.106px;">Status:</div>
<div class="t" style="left:589.60px;top:464.00px;font-size:8.7px;color:#dfe1e4;letter-spacing:0.082px;">All</div>
<div class="ic" style="left:604.80px;top:469.30px;width:5.00px;height:5.00px;color:#d3d5d8"><svg viewBox="0 0 16 16"><path d="M1.700 4.700 8 11l6.300-6.300" fill="none" stroke="currentColor" stroke-width="2.600" stroke-linecap="round" stroke-linejoin="round"/></svg></div>
<div class="t" style="left:634.20px;top:464.00px;font-size:8.7px;color:#777b80;letter-spacing:0.013px;">Signed up:</div>
<div class="t" style="left:689.50px;top:464.00px;font-size:8.7px;color:#dfe1e4;letter-spacing:0.082px;">All</div>
<div class="ic" style="left:704.50px;top:469.30px;width:5.00px;height:5.00px;color:#d3d5d8"><svg viewBox="0 0 16 16"><path d="M1.700 4.700 8 11l6.300-6.300" fill="none" stroke="currentColor" stroke-width="2.600" stroke-linecap="round" stroke-linejoin="round"/></svg></div>
<div class="ic" style="left:734.20px;top:466.80px;width:9.00px;height:9.00px;color:#c9ccd0"><svg viewBox="0 0 16 16"><circle cx="6.500" cy="6.500" r="5.500" fill="none" stroke="currentColor" stroke-width="1.250"/><path d="M10.600 10.600 15.200 15.200" stroke="currentColor" stroke-width="1.500" stroke-linecap="round"/></svg></div>
<div class="t" style="left:751.90px;top:464.00px;font-size:8.8px;color:#cfd1d4;letter-spacing:-0.104px;">Search users</div>
<div class="t" style="left:226.40px;top:501.00px;font-size:7px;color:#c9ccd0;letter-spacing:0.060px;">FULL NAME</div>
<div class="t" style="left:403.10px;top:501.00px;font-size:7px;color:#c9ccd0;">STATUS</div>
<div class="t" style="left:494.00px;top:501.00px;font-size:6.89px;color:#c9ccd0;letter-spacing:-0.133px;">TYPE</div>
<div class="t" style="left:603.50px;top:501.00px;font-size:7px;color:#c9ccd0;letter-spacing:0.097px;">EMAIL</div>
<div class="t" style="left:719.20px;top:501.00px;font-size:7px;color:#c9ccd0;letter-spacing:-0.117px;">SIGNED UP</div>
<div class="t" style="left:812.50px;top:501.00px;font-size:7px;color:#c9ccd0;letter-spacing:-0.073px;">USER ID</div>
<svg class="a" style="left:225px;top:532px;width:27px;height:27px" viewBox="225 532 27 27">
<defs><clipPath id="av2"><circle cx="238.300" cy="545.600" r="11"/></clipPath></defs>
<circle cx="238.300" cy="545.600" r="11.600" fill="#c4c5c7"/>
<g clip-path="url(#av2)"><rect x="225" y="532" width="27" height="27" fill="#dededf"/>
<ellipse cx="238.200" cy="545.400" rx="9" ry="8.200" fill="#0b0a0a"/>
<path d="M228.500 558c.6-3.600 3-5.400 5.800-6h8c2.800.6 5.200 2.400 5.800 6z" fill="#4a5e45"/>
<path d="M236 549.500h4.600l.4 3.500-2.700 2.400-2.700-2.400z" fill="#d2a688"/>
<ellipse cx="238.500" cy="544.800" rx="3.500" ry="4.500" fill="#d9ad90"/>
<path d="M237 546.600h3" stroke="#f3e9e6" stroke-width=".9"/>
</g></svg>
<div class="t" style="left:259.00px;top:539.00px;font-size:8.57px;color:#fff;font-weight:bold;letter-spacing:-0.176px;">Amanda Harvey</div>
<svg class="a" style="left:323.700px;top:541.400px;width:8.900px;height:8.900px" viewBox="0 0 16 16"><path d="M8 .4l1.900 1.400 2.400-.2.800 2.300 2 1.300-.7 2.300.7 2.300-2 1.300-.8 2.300-2.400-.2L8 15.600l-1.900-1.400-2.400.2-.8-2.300-2-1.300.7-2.300L.9 6.200l2-1.300.8-2.300 2.400.2z" fill="#377dff"/><path d="M5.200 8.200l2 2 3.600-4" fill="none" stroke="#fff" stroke-width="1.500" stroke-linecap="round" stroke-linejoin="round"/></svg>
<div class="t" style="left:411.90px;top:539.00px;font-size:8.8px;color:#dfe1e3;letter-spacing:0.023px;">Successful</div>
<div class="t" style="left:493.50px;top:539.00px;font-size:8.8px;color:#dfe1e3;letter-spacing:-0.042px;">Unassigned</div>
<div class="t" style="left:603.70px;top:539.00px;font-size:8.8px;color:#dfe1e3;letter-spacing:-0.105px;">amanda@site.com</div>
<div class="t" style="left:718.90px;top:539.00px;font-size:8.8px;color:#dfe1e3;letter-spacing:-0.121px;">1 year ago</div>
<div class="t" style="left:812.60px;top:539.00px;font-size:8.8px;color:#dfe1e3;letter-spacing:0.306px;">67989</div>
</section>
</main>
</body>
</html>
